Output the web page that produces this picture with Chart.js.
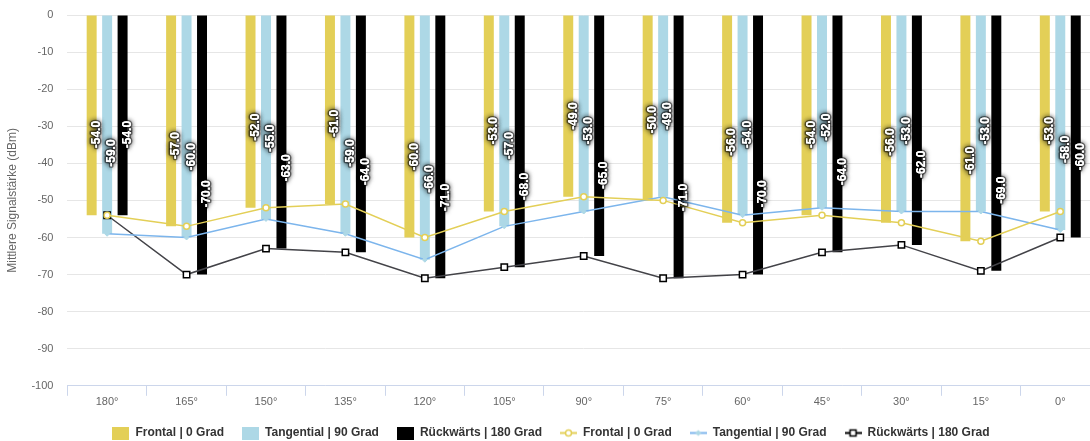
<!DOCTYPE html>
<html lang="de">
<head>
<meta charset="utf-8">
<title>Mittlere Signalstärke</title>
<script src="https://cdn.jsdelivr.net/npm/chart.js@4.4.1/dist/chart.umd.min.js"></script>
<style>
  html, body { margin: 0; padding: 0; background: #fff; overflow: hidden; }
  #wrap { position: relative; width: 1106px; height: 450px; }
</style>
</head>
<body>
<div id="wrap"><canvas id="signalChart"></canvas></div>
<script>
  // Winkel der Messpunkte
  const angles = ['180°', '165°', '150°', '135°', '120°', '105°', '90°', '75°', '60°', '45°', '30°', '15°', '0°'];

  // Mittlere Signalstärke in dBm je Ausrichtung
  const frontal = [-54, -57, -52, -51, -60, -53, -49, -50, -56, -54, -56, -61, -53];
  const tangential = [-59, -60, -55, -59, -66, -57, -53, -49, -54, -52, -53, -53, -58];
  const rueckwaerts = [-54, -70, -63, -64, -71, -68, -65, -71, -70, -64, -62, -69, -60];

  const seriesNames = ['Frontal | 0 Grad', 'Tangential | 90 Grad', 'Rückwärts | 180 Grad'];

  const yMin = -100;
  const yMax = 0;
  const yStep = 10;

  const FONT = '"Liberation Sans", Arial, Helvetica, sans-serif';
  const YELLOW = '#e3cf57';
  const LIGHTBLUE = '#add8e6';
  const LINEBLUE = '#7cb5ec';
  const DARK = '#434348';

  // kleine Symbole für die Legende
  function boxIcon(color) {
    const c = document.createElement('canvas');
    c.width = 17; c.height = 13;
    const g = c.getContext('2d');
    g.fillStyle = color;
    g.fillRect(0, 0, 17, 13);
    return c;
  }

  function lineIcon(color, marker, markerBorder) {
    const c = document.createElement('canvas');
    c.width = 17; c.height = 13;
    const g = c.getContext('2d');
    g.strokeStyle = color;
    g.lineWidth = 2;
    g.beginPath(); g.moveTo(0, 6.5); g.lineTo(17, 6.5); g.stroke();
    g.lineWidth = 1.5;
    g.strokeStyle = markerBorder;
    g.fillStyle = '#fff';
    if (marker === 'circle') {
      g.beginPath(); g.arc(8.5, 6.5, 3, 0, Math.PI * 2); g.fill(); g.stroke();
    } else if (marker === 'diamond') {
      g.fillStyle = LIGHTBLUE;
      g.beginPath(); g.moveTo(8.5, 3.5); g.lineTo(11.5, 6.5); g.lineTo(8.5, 9.5); g.lineTo(5.5, 6.5); g.closePath(); g.fill();
    } else {
      g.fillRect(5.5, 3.5, 6, 6); g.strokeRect(5.5, 3.5, 6, 6);
    }
    return c;
  }

  const legendIcons = [
    boxIcon(YELLOW),
    boxIcon(LIGHTBLUE),
    boxIcon('#000'),
    lineIcon(YELLOW, 'circle', YELLOW),
    lineIcon(LINEBLUE, 'diamond', LINEBLUE),
    lineIcon('#000', 'square', '#000')
  ];

  // gedrehte Wertbeschriftungen an den Balken
  const barValueLabels = {
    id: 'barValueLabels',
    afterDatasetsDraw(chart) {
      const ctx = chart.ctx;
      ctx.save();
      ctx.font = 'bold 12px ' + FONT;
      ctx.textAlign = 'left';
      ctx.textBaseline = 'middle';
      chart.data.datasets.forEach((ds, di) => {
        if (ds.type === 'line') return;
        const meta = chart.getDatasetMeta(di);
        meta.data.forEach((bar, i) => {
          const text = ds.data[i].toFixed(1);
          ctx.save();
          ctx.translate(bar.x + 5, bar.y - 67);
          ctx.rotate(-Math.PI / 2);
          ctx.shadowColor = 'rgba(0,0,0,0.9)';
          ctx.shadowBlur = 5;
          ctx.lineJoin = 'round';
          ctx.lineWidth = 3;
          ctx.strokeStyle = 'rgba(0,0,0,0.45)';
          ctx.strokeText(text, 0, 0);
          ctx.fillStyle = '#fff';
          ctx.fillText(text, 0, 0);
          ctx.shadowBlur = 0;
          ctx.fillText(text, 0, 0);
          ctx.restore();
        });
      });
      ctx.restore();
    }
  };

  const barStyle = { barPercentage: 0.645, categoryPercentage: 0.584, borderWidth: 0, order: 1 };

  new Chart(document.getElementById('signalChart'), {
    type: 'bar',
    data: {
      labels: angles,
      datasets: [
        Object.assign({ label: seriesNames[0], data: frontal, backgroundColor: YELLOW }, barStyle),
        Object.assign({ label: seriesNames[1], data: tangential, backgroundColor: LIGHTBLUE }, barStyle),
        Object.assign({ label: seriesNames[2], data: rueckwaerts, backgroundColor: '#000' }, barStyle),
        {
          type: 'line', label: seriesNames[0], data: frontal, order: 0,
          borderColor: YELLOW, borderWidth: 1.5, backgroundColor: '#fff',
          pointStyle: 'circle', pointRadius: 3, pointBorderWidth: 1.5, pointBorderColor: YELLOW,
          pointBackgroundColor: '#fff', tension: 0
        },
        {
          type: 'line', label: seriesNames[1], data: tangential, order: 0,
          borderColor: LINEBLUE, borderWidth: 1.5, backgroundColor: LIGHTBLUE,
          pointStyle: 'rectRot', pointRadius: 2.5, pointBorderWidth: 1, pointBorderColor: LIGHTBLUE,
          pointBackgroundColor: LIGHTBLUE, tension: 0
        },
        {
          type: 'line', label: seriesNames[2], data: rueckwaerts, order: 0,
          borderColor: DARK, borderWidth: 1.5, backgroundColor: '#fff',
          pointStyle: 'rect', pointRadius: 4.5, pointBorderWidth: 1.5, pointBorderColor: '#000',
          pointBackgroundColor: '#fff', tension: 0
        }
      ]
    },
    options: {
      responsive: true,
      maintainAspectRatio: false,
      animation: false,
      layout: { padding: { top: 15, right: 4, bottom: 1, left: 0 } },
      plugins: {
        tooltip: { enabled: false },
        legend: {
          position: 'bottom',
          labels: {
            usePointStyle: true,
            pointStyleWidth: 17,
            padding: 18,
            color: '#333',
            font: { family: FONT, size: 12, weight: 'bold' },
            generateLabels(chart) {
              const items = Chart.defaults.plugins.legend.labels.generateLabels(chart);
              items.sort((a, b) => a.datasetIndex - b.datasetIndex);
              items.forEach(it => { it.pointStyle = legendIcons[it.datasetIndex]; it.rotation = 0; });
              return items;
            }
          }
        }
      },
      scales: {
        x: {
          offset: true,
          grid: {
            offset: true, drawOnChartArea: false, drawTicks: true,
            tickLength: 10, color: '#ccd6eb', lineWidth: 1
          },
          border: { display: true, color: '#ccd6eb', width: 1 },
          ticks: { color: '#666', padding: 0, font: { family: FONT, size: 11 }, maxRotation: 0 }
        },
        y: {
          min: yMin,
          max: yMax,
          grid: { color: '#e6e6e6', drawTicks: false, lineWidth: 1 },
          border: { display: false },
          ticks: { stepSize: yStep, color: '#666', padding: 14, font: { family: FONT, size: 11 } },
          title: {
            display: true,
            text: 'Mittlere Signalstärke (dBm)',
            color: '#666',
            font: { family: FONT, size: 12 },
            padding: { top: 5, bottom: -2 }
          },
          // der Abstand der Beschriftungen soll oben nicht zusätzlich Platz kosten
          afterFit(scale) {
            scale.paddingTop = 7;
            scale.paddingBottom = 7;
          }
        }
      }
    },
    plugins: [barValueLabels]
  });
</script>
</body>
</html>
